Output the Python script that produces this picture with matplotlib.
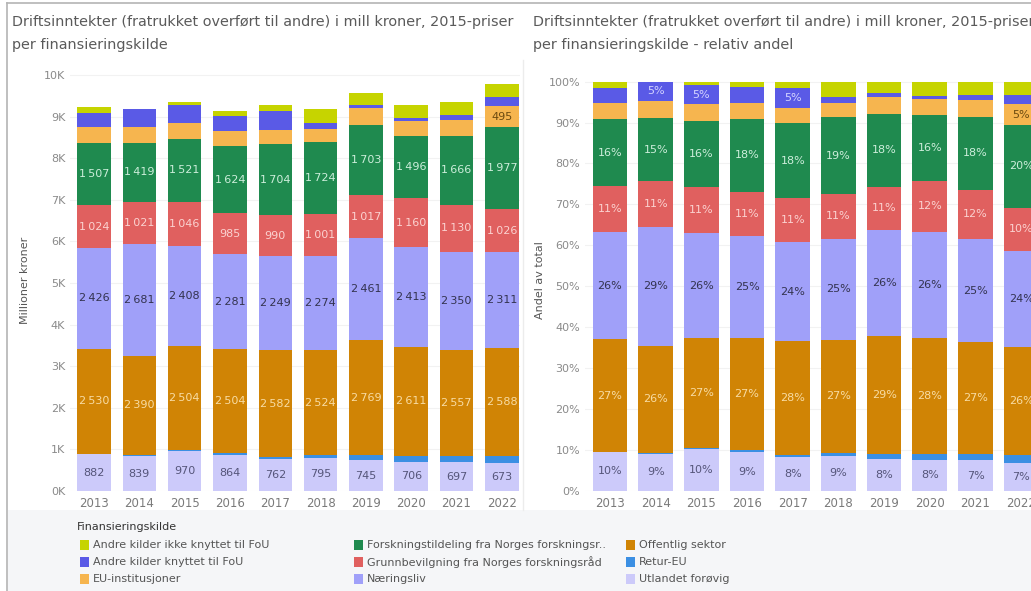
import numpy as np
import matplotlib
matplotlib.use("Agg")
import matplotlib.pyplot as plt
from matplotlib.patches import Rectangle
from matplotlib.lines import Line2D

plt.rcParams['font.family'] = ['DejaVu Sans']

# data (mill kroner, 2015-priser)
years = ['2013', '2014', '2015', '2016', '2017', '2018', '2019', '2020', '2021', '2022']
utlandet = [882, 839, 970, 864, 762, 795, 745, 706, 697, 673]
retur_eu = [5, 24, 16, 40, 48, 64, 112, 144, 144, 176]
offentlig = [2530, 2390, 2504, 2504, 2582, 2524, 2769, 2611, 2557, 2588]
naeringsliv = [2426, 2681, 2408, 2281, 2249, 2274, 2461, 2413, 2350, 2311]
grunnbev = [1024, 1021, 1046, 985, 990, 1001, 1017, 1160, 1130, 1026]
forskning = [1507, 1419, 1521, 1624, 1704, 1724, 1703, 1496, 1666, 1977]
eu_inst = [375, 375, 370, 360, 335, 320, 395, 355, 385, 495]
andre_fou = [340, 445, 435, 345, 465, 135, 80, 70, 105, 214]
andre_ikke = [140, 0, 85, 125, 140, 345, 275, 330, 310, 330]

# bottom -> top
series = [
    ('Utlandet forøvig', utlandet, '#cccafa', '#55557a'),
    ('Retur-EU', retur_eu, '#3b8fe3', '#ffffff'),
    ('Offentlig sektor', offentlig, '#d08405', '#f8dca4'),
    ('Næringsliv', naeringsliv, '#a0a0f9', '#33334f'),
    ('Grunnbevilgning fra Norges forskningsråd', grunnbev, '#e0605f', '#fbd2d0'),
    ('Forskningstildeling fra Norges forskningsr..', forskning, '#1f8a4f', '#cdeedb'),
    ('EU-institusjoner', eu_inst, '#f6b54f', '#6b4a10'),
    ('Andre kilder knyttet til FoU', andre_fou, '#5a5ae6', '#d4d4ff'),
    ('Andre kilder ikke knyttet til FoU', andre_ikke, '#c6d400', '#444400'),
]
legend_order = [
    'Andre kilder ikke knyttet til FoU', 'Andre kilder knyttet til FoU', 'EU-institusjoner',
    'Forskningstildeling fra Norges forskningsr..', 'Grunnbevilgning fra Norges forskningsråd', 'Næringsliv',
    'Offentlig sektor', 'Retur-EU', 'Utlandet forøvig',
]

W, H = 1031, 591
fig = plt.figure(figsize=(W / 100, H / 100), dpi=100)
fig.patch.set_facecolor('white')

def fx(x):
    return x / W

def fy(y):
    return 1 - y / H

# legend background + borders
fig.patches.append(Rectangle((fx(8), 0), 1, fy(510), transform=fig.transFigure,
                             facecolor='#f5f6f8', edgecolor='none', zorder=0))
fig.add_artist(Line2D([fx(7), fx(7)], [0, fy(3)], color='#b4b4b4', lw=1.2))
fig.add_artist(Line2D([fx(7), 1], [fy(3), fy(3)], color='#b4b4b4', lw=1.2))
fig.add_artist(Line2D([fx(523), fx(523)], [fy(510), fy(60)], color='#ececec', lw=1))

totals = np.sum([s[1] for s in series], axis=0)
x = np.arange(len(years))
tick_col = '#8a8a8a'


def style_axes(ax):
    for sp in ax.spines.values():
        sp.set_visible(False)
    ax.tick_params(length=0, colors=tick_col, labelsize=8)
    ax.tick_params(axis='x', pad=4, labelsize=8.5, colors='#7a7a7a')
    ax.grid(axis='y', color='#f2f2f2', lw=0.8)
    ax.set_axisbelow(True)
    ax.set_xticks(x)
    ax.set_xticklabels(years)


# left: absolute values
axl = fig.add_axes([fx(70), 1 - 491 / H, 450 / W, 425 / H])
bottom = np.zeros(len(years))
for name, vals, col, lcol in series:
    vals = np.array(vals, dtype=float)
    axl.bar(x, vals, bottom=bottom, width=0.74, color=col, label=name)
    for i, v in enumerate(vals):
        if v >= 480:
            axl.text(x[i], bottom[i] + v / 2, f"{int(v):,}".replace(',', '\u2009'),
                     ha='center', va='center', fontsize=8, color=lcol)
    bottom += vals
axl.set_xlim(-0.53, 9.40)
axl.set_ylim(0, 10216)
axl.set_yticks(np.arange(0, 10001, 1000))
axl.set_yticklabels([f"{k}K" for k in range(11)])
style_axes(axl)

# right: relative share
axr = fig.add_axes([fx(585), 1 - 491 / H, 470 / W, 425 / H])
bottom = np.zeros(len(years))
for name, vals, col, lcol in series:
    pct = np.array(vals, dtype=float) / totals * 100
    axr.bar(x, pct, bottom=bottom, width=0.76, color=col)
    for i, p in enumerate(pct):
        if int(p + 0.5) >= 5:
            axr.text(x[i], bottom[i] + p / 2, f"{int(p + 0.5)}%",
                     ha='center', va='center', fontsize=8, color=lcol)
    bottom += pct
axr.set_xlim(-0.547, 9.74)
axr.set_ylim(0, 103.8)
axr.set_yticks(np.arange(0, 101, 10))
axr.set_yticklabels([f"{k}%" for k in range(0, 101, 10)])
style_axes(axr)

# titles
title_col = '#5a5a5a'
fs_title = 10.4
fig.text(fx(12), fy(22), 'Driftsinntekter (fratrukket overført til andre) i mill kroner, 2015-priser',
         fontsize=fs_title, color=title_col, va='center')
fig.text(fx(12), fy(45), 'per finansieringskilde', fontsize=fs_title, color=title_col, va='center')
fig.text(fx(533), fy(22), 'Driftsinntekter (fratrukket overført til andre) i mill kroner, 2015-priser',
         fontsize=fs_title, color=title_col, va='center')
fig.text(fx(533), fy(45), 'per finansieringskilde - relativ andel', fontsize=fs_title,
         color=title_col, va='center')

fig.text(fx(25), fy(280), 'Millioner kroner', rotation=90, fontsize=8, color='#555555',
         ha='center', va='center')
fig.text(fx(540), fy(280), 'Andel av total', rotation=90, fontsize=8, color='#555555',
         ha='center', va='center')

# legend
colors = {s[0]: s[2] for s in series}
fig.text(fx(77), fy(527), 'Finansieringskilde', fontsize=8, color='#333333', va='center')
col_x = [80, 354, 626]
row_y = [545, 562, 579]
for k, name in enumerate(legend_order):
    cx = col_x[k // 3]
    cy = row_y[k % 3]
    fig.patches.append(Rectangle((fx(cx), fy(cy + 5)), 9 / W, 10 / H, transform=fig.transFigure,
                                 facecolor=colors[name], edgecolor='none'))
    fig.text(fx(cx + 13), fy(cy), name, fontsize=8, color='#555555', va='center')

fig.savefig('out.png', dpi=100)
